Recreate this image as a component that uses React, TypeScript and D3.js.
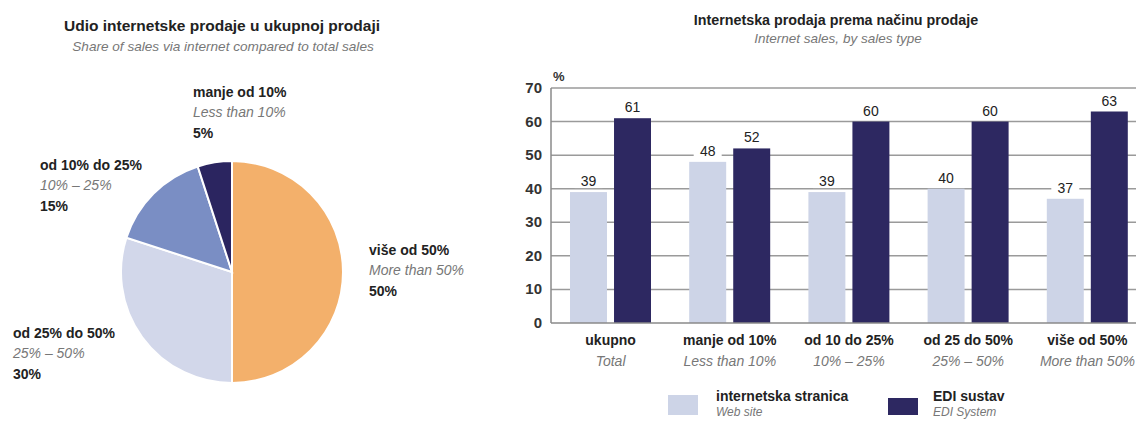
import React from 'react';
import * as d3 from 'd3';

const pieCategories = ['više od 50%', 'od 25% do 50%', 'od 10% do 25%', 'manje od 10%'];
const pieCategoriesEn = ['More than 50%', '25% – 50%', '10% – 25%', 'Less than 10%'];
const pieValues = [50, 30, 15, 5];
const pieColors = ['#F3B06B', '#D2D7EA', '#7A8EC4', '#2B2560'];

const barCategories = ['ukupno', 'manje od 10%', 'od 10 do 25%', 'od 25 do 50%', 'više od 50%'];
const barCategoriesEn = ['Total', 'Less than 10%', '10% – 25%', '25% – 50%', 'More than 50%'];
const webSite = [39, 48, 39, 40, 37];
const ediSystem = [61, 52, 60, 60, 63];
const yTicks = [0, 10, 20, 30, 40, 50, 60, 70];
const seriesNames = ['internetska stranica', 'EDI sustav'];
const seriesNamesEn = ['Web site', 'EDI System'];
const barColors = ['#CDD4E7', '#2D2861'];

const FONT = '"Liberation Sans", Arial, sans-serif';

// pie label layout (offsets from pie center)
const pieLabelPos: [number, number][] = [
  [137, -17],
  [-219, 66],
  [-192, -102],
  [-39, -175],
];

export default function App() {
  const W = 1136, H = 421;
  const cx = 232, cy = 272, r = 111;
  const pie = d3.pie<number>().sort(null).value((d) => d)(pieValues);
  const arc = d3.arc<d3.PieArcDatum<number>>().innerRadius(0).outerRadius(r);

  const x = d3.scaleBand<string>().domain(barCategories).range([551, 1147]);
  const xSub = d3.scaleBand<string>().domain(['web', 'edi']).range([19, 100]).paddingInner(0.16);
  const y = d3.scaleLinear().domain([0, 70]).range([323, 88]);
  const series = [webSite, ediSystem];
  const keys = ['web', 'edi'];

  return (
    <svg width={W} height={H} style={{ position: 'absolute', left: 0, top: 0, background: '#fff' }} fontFamily={FONT}>
      {/* Pie chart */}
      <text x={222} y={31} textAnchor="middle" fontSize={15.5} fontWeight="bold" fill="#222">
        Udio internetske prodaje u ukupnoj prodaji
      </text>
      <text x={223} y={51} textAnchor="middle" fontSize={13.6} fontStyle="italic" fill="#777">
        Share of sales via internet compared to total sales
      </text>
      <g transform={`translate(${cx},${cy})`}>
        {pie.map((p, i) => (
          <path key={i} d={arc(p) || ''} fill={pieColors[i]} stroke="#fff" strokeWidth={2} />
        ))}
        {pieCategories.map((c, i) => {
          const [lx, ly] = pieLabelPos[i];
          return (
            <g key={c} transform={`translate(${lx},${ly})`} fontSize={14}>
              <text x={0} y={0} fontWeight="bold" fill="#222">{c}</text>
              <text x={0} y={20} fontStyle="italic" fill="#777">{pieCategoriesEn[i]}</text>
              <text x={0} y={41} fontWeight="bold" fill="#222">{pieValues[i]}%</text>
            </g>
          );
        })}
      </g>

      {/* Bar chart */}
      <text x={836} y={25} textAnchor="middle" fontSize={14.3} fontWeight="bold" fill="#222">
        Internetska prodaja prema načinu prodaje
      </text>
      <text x={838} y={43} textAnchor="middle" fontSize={13.5} fontStyle="italic" fill="#777">
        Internet sales, by sales type
      </text>
      <text x={553} y={81} fontSize={13} fontWeight="bold" fill="#333">%</text>
      {yTicks.map((t) => (
        <g key={t}>
          {t > 0 && <line x1={551} x2={1136} y1={y(t)} y2={y(t)} stroke="#9a9a9a" strokeWidth={1.5} />}
          <text x={542} y={y(t) + 5} textAnchor="end" fontSize={15} fontWeight="bold" fill="#333">{t}</text>
        </g>
      ))}
      {barCategories.map((c, i) => {
        const gx = x(c) as number;
        return (
          <g key={c}>
            {series.map((s, k) => {
              const bx = gx + (xSub(keys[k]) as number);
              const bw = xSub.bandwidth();
              return (
                <g key={k}>
                  <rect x={bx} y={y(s[i])} width={bw} height={y(0) - y(s[i])} fill={barColors[k]} />
                  <rect x={bx + bw / 2 - 14} y={y(s[i]) - 19} width={28} height={15} fill="#fff" />
                  <text x={bx + bw / 2} y={y(s[i]) - 6} textAnchor="middle" fontSize={14} fill="#222">{s[i]}</text>
                </g>
              );
            })}
            <text x={gx + x.bandwidth() / 2} y={345} textAnchor="middle" fontSize={14} fontWeight="bold" fill="#222">{c}</text>
            <text x={gx + x.bandwidth() / 2} y={366} textAnchor="middle" fontSize={14} fontStyle="italic" fill="#777">{barCategoriesEn[i]}</text>
          </g>
        );
      })}
      <line x1={551} x2={1136} y1={y(0)} y2={y(0)} stroke="#8a8a8a" strokeWidth={1.5} />
      <line x1={551} x2={551} y1={y(70)} y2={y(0)} stroke="#8a8a8a" strokeWidth={1.5} />

      {/* Legend */}
      {seriesNames.map((n, k) => {
        const lx = k === 0 ? 668 : 888;
        const tx = k === 0 ? 716 : 933;
        return (
          <g key={n}>
            <rect x={lx} y={k === 0 ? 395 : 398} width={30} height={k === 0 ? 20 : 17} fill={barColors[k]} />
            <text x={tx} y={401} fontSize={14} fontWeight="bold" fill="#222">{n}</text>
            <text x={tx} y={416} fontSize={12} fontStyle="italic" fill="#777">{seriesNamesEn[k]}</text>
          </g>
        );
      })}
    </svg>
  );
}
